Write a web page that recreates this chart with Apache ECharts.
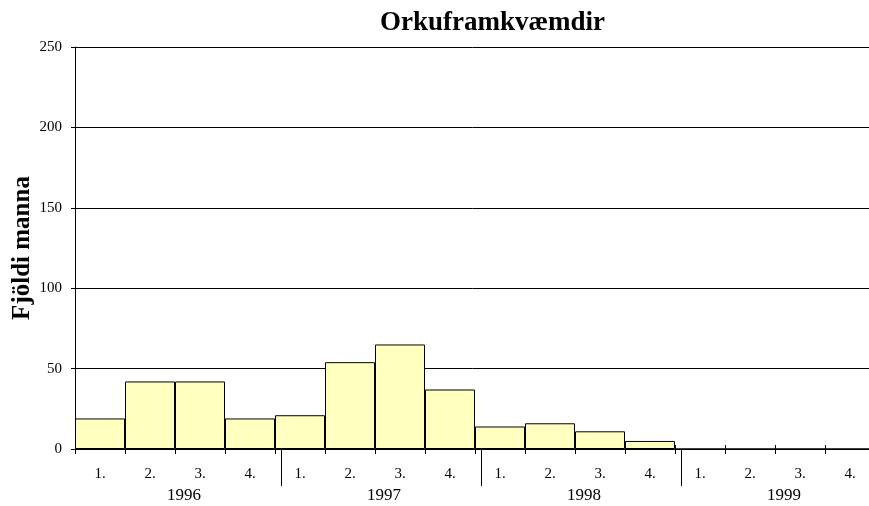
<!DOCTYPE html>
<html>
<head>
<meta charset="utf-8">
<script src="https://cdn.jsdelivr.net/npm/echarts@6/dist/echarts.min.js"></script>
<style>
html,body{margin:0;padding:0;background:#fff;}
#chart{width:869px;height:506px;}
</style>
</head>
<body>
<div id="chart"></div>
<script>
// Data
const title = 'Orkuframkvæmdir';
const yName = 'Fjöldi manna';
const quarters = ['1.','2.','3.','4.','1.','2.','3.','4.','1.','2.','3.','4.','1.','2.','3.','4.'];
const years = ['1996','1997','1998','1999'];
const values = [19, 42, 42, 19, 21, 54, 65, 37, 14, 16, 11, 5, 0, 0, 0, 0];
const yMin = 0, yMax = 250, yStep = 50;

const serif = '"Liberation Serif", "Times New Roman", serif';
const chart = echarts.init(document.getElementById('chart'), null, {renderer: 'canvas'});
chart.setOption({
  animation: false,
  backgroundColor: '#fff',
  title: {
    text: title,
    left: 375, top: 5,
    textStyle: {fontFamily: serif, fontWeight: 'bold', fontSize: 27, color: '#000'}
  },
  grid: [
    {left: 75, right: -6, top: 47, bottom: 57, containLabel: false, outerBoundsMode: 'none'},
    {left: 81, right: -12, top: 47, bottom: 57, containLabel: false, outerBoundsMode: 'none'}
  ],
  xAxis: [
    {
      type: 'category', gridIndex: 0, data: quarters, position: 'bottom',
      axisLine: {show: true, lineStyle: {color: '#000', width: 1}},
      axisTick: {show: true, length: 5, inside: false, lineStyle: {color: '#000'}},
      axisLabel: {show: true, interval: 0, margin: 18, fontFamily: serif, fontSize: 15, color: '#000'},
      splitLine: {show: false}
    },
    {
      type: 'category', gridIndex: 0, data: quarters, position: 'bottom',
      axisLine: {show: false},
      axisTick: {show: true, length: 4, inside: true, lineStyle: {color: '#000'}},
      axisLabel: {show: false},
      splitLine: {show: false}
    },
    {
      type: 'category', gridIndex: 1, data: years, position: 'bottom', offset: 3,
      axisLine: {show: false},
      axisTick: {show: true, length: 37, inside: false, interval: function (i) { return i > 0; }, lineStyle: {color: '#000'}},
      axisLabel: {show: true, interval: 0, margin: 35, fontFamily: serif, fontSize: 17, color: '#000', padding: [0, 0, 0, 6]},
      splitLine: {show: false}
    }
  ],
  yAxis: [
    {
      type: 'value', gridIndex: 0, min: yMin, max: yMax, interval: yStep,
      name: yName, nameLocation: 'middle', nameRotate: 90, nameGap: 40, nameMoveOverlap: false,
      nameTextStyle: {fontFamily: serif, fontWeight: 'bold', fontSize: 25, color: '#000'},
      axisLine: {show: true, lineStyle: {color: '#000', width: 1}},
      axisTick: {show: true, length: 4, lineStyle: {color: '#000'}},
      axisLabel: {margin: 13, fontFamily: serif, fontSize: 15, color: '#000'},
      splitLine: {show: true, lineStyle: {color: '#000', width: 1}}
    },
    {
      type: 'value', gridIndex: 1, min: yMin, max: yMax, show: false
    }
  ],
  series: [
    {
      type: 'bar', xAxisIndex: 0, yAxisIndex: 0, data: values,
      barCategoryGap: '0%',
      itemStyle: {color: '#FFFFC0', borderColor: '#000', borderWidth: 1},
      emphasis: {disabled: true}
    }
  ]
});
</script>
</body>
</html>
